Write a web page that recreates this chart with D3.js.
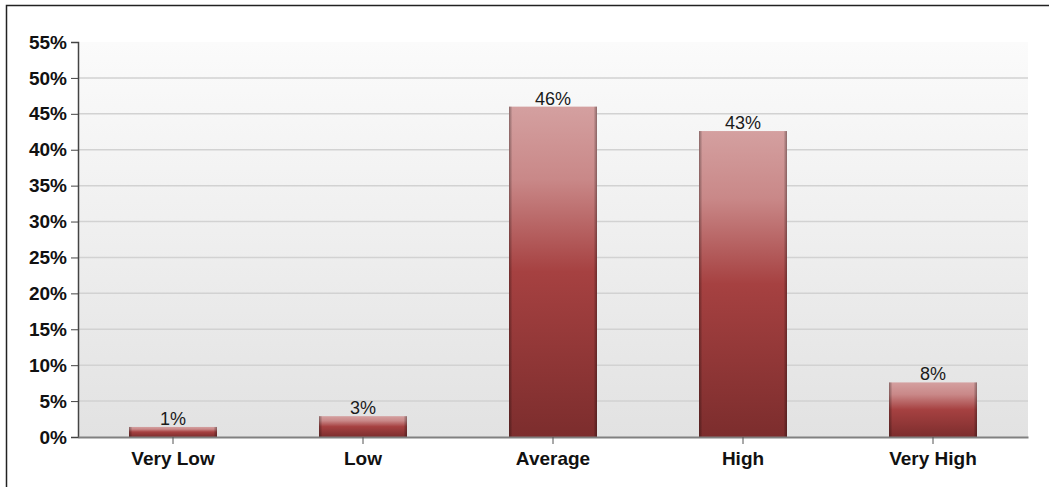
<!DOCTYPE html>
<html><head><meta charset="utf-8">
<script src="https://cdn.jsdelivr.net/npm/d3@7"></script>
<style>html,body{margin:0;padding:0;background:#fff;overflow:hidden}</style>
</head><body>
<svg id="chart" width="1049" height="487"></svg>
<script>
const categories = ["Very Low", "Low", "Average", "High", "Very High"];
const values = [1.4, 2.9, 46.0, 42.6, 7.6];
const valueLabels = ["1%", "3%", "46%", "43%", "8%"];
const yTicks = [0, 5, 10, 15, 20, 25, 30, 35, 40, 45, 50, 55];

const svg = d3.select("#chart");
const W = 1049, H = 487;
const m = {left: 78, right: 1028, top: 42, bottom: 437};

const defs = svg.append("defs");
const bg = defs.append("linearGradient").attr("id","bg").attr("x1",0).attr("y1",0).attr("x2",0).attr("y2",1);
bg.append("stop").attr("offset","0%").attr("stop-color","#fbfbfb");
bg.append("stop").attr("offset","100%").attr("stop-color","#e2e2e2");
const bar = defs.append("linearGradient").attr("id","bar").attr("x1",0).attr("y1",0).attr("x2",0).attr("y2",1);
bar.append("stop").attr("offset","0%").attr("stop-color","#d4a0a0");
bar.append("stop").attr("offset","22%").attr("stop-color","#c98888");
bar.append("stop").attr("offset","50%").attr("stop-color","#a64141");
bar.append("stop").attr("offset","100%").attr("stop-color","#7c2d2d");
const edge = defs.append("linearGradient").attr("id","edge").attr("x1",0).attr("y1",0).attr("x2",1).attr("y2",0);
edge.append("stop").attr("offset","0%").attr("stop-color","#000").attr("stop-opacity",0.35);
edge.append("stop").attr("offset","4%").attr("stop-color","#000").attr("stop-opacity",0.0);
edge.append("stop").attr("offset","96%").attr("stop-color","#000").attr("stop-opacity",0.0);
edge.append("stop").attr("offset","100%").attr("stop-color","#000").attr("stop-opacity",0.35);

// frame
svg.append("path").attr("d",`M6.5,${H} V5.5 H${W}`).attr("fill","none").attr("stroke","#222").attr("stroke-width",1.5);

const x = d3.scaleBand().domain(categories).range([m.left, m.right]).paddingInner(0.537).paddingOuter(0.2685);
const y = d3.scaleLinear().domain([0, 55]).range([m.bottom, m.top]);

svg.append("rect").attr("x",m.left).attr("y",m.top).attr("width",m.right-m.left).attr("height",m.bottom-m.top).attr("fill","url(#bg)");

// gridlines
svg.append("g").selectAll("line").data(yTicks.filter(t=>t>0 && t<55)).join("line")
  .attr("x1",m.left).attr("x2",m.right)
  .attr("y1",d=>y(d)).attr("y2",d=>y(d))
  .attr("stroke","#d2d2d2").attr("stroke-width",1.5);

// bars
const data = categories.map((c,i)=>({c, v:values[i], l:valueLabels[i]}));
const bars = svg.append("g");
bars.selectAll("rect.b").data(data).join("rect").attr("class","b")
  .attr("x",d=>x(d.c)).attr("width",x.bandwidth())
  .attr("y",d=>y(d.v)).attr("height",d=>y(0)-y(d.v))
  .attr("fill","url(#bar)");
bars.selectAll("rect.e").data(data).join("rect").attr("class","e")
  .attr("x",d=>x(d.c)).attr("width",x.bandwidth())
  .attr("y",d=>y(d.v)).attr("height",d=>y(0)-y(d.v))
  .attr("fill","url(#edge)");

// value labels
svg.append("g").selectAll("text").data(data).join("text")
  .attr("x",d=>x(d.c)+x.bandwidth()/2).attr("y",d=>y(d.v)-2)
  .attr("text-anchor","middle")
  .attr("font-family","Liberation Sans, Arial, sans-serif").attr("font-size",18)
  .attr("fill","#1a1a1a").text(d=>d.l);

// y axis
const yAxis = d3.axisLeft(y).tickValues(yTicks).tickFormat(d=>d+"%").tickSize(7).tickPadding(4);
const gy = svg.append("g").attr("transform",`translate(${m.left},0)`).call(yAxis);
gy.select(".domain").attr("stroke","#444").attr("stroke-width",1.5);
gy.selectAll(".tick line").attr("stroke","#444");
gy.selectAll("text").attr("font-family","Liberation Sans, Arial, sans-serif").attr("font-size",19).attr("font-weight","bold").attr("fill","#111");

// x axis
const xAxis = d3.axisBottom(x).tickSize(7).tickPadding(8).tickSizeOuter(0);
const gx = svg.append("g").attr("transform",`translate(0,${m.bottom})`).call(xAxis);
gx.select(".domain").attr("stroke","#808080").attr("stroke-width",2);
gx.selectAll(".tick line").attr("stroke","#555");
gx.selectAll("text").attr("font-family","Liberation Sans, Arial, sans-serif").attr("font-size",19).attr("font-weight","bold").attr("fill","#111");
</script>
</body></html>
